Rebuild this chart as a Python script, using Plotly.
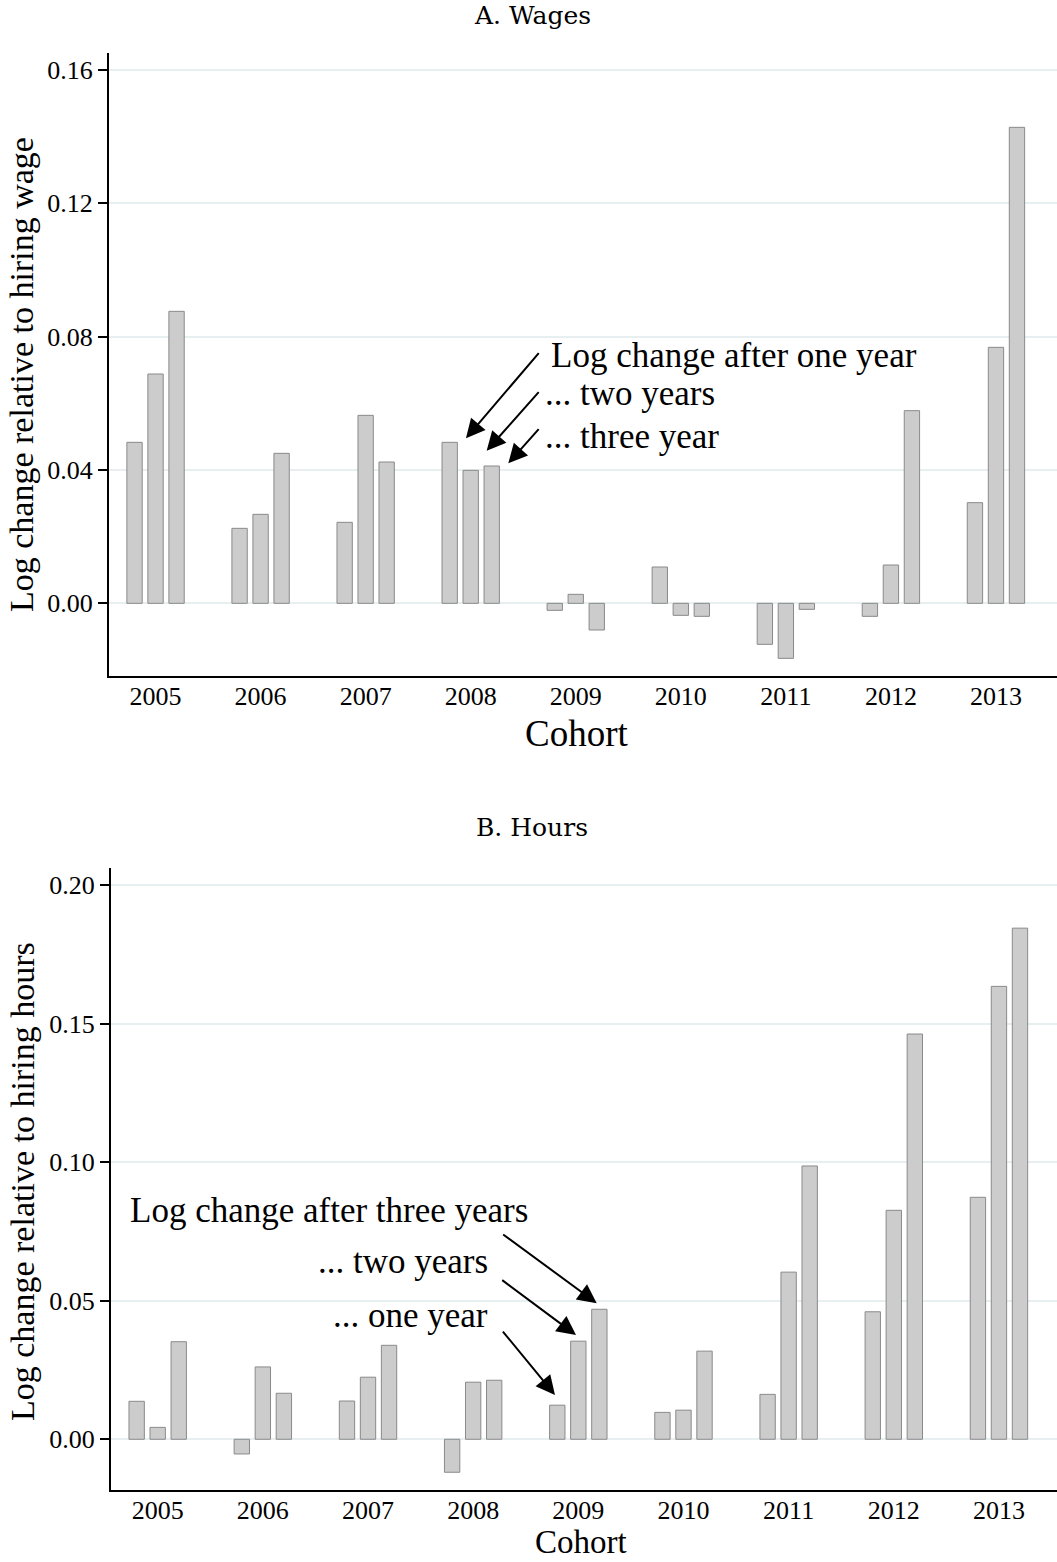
import plotly.graph_objects as go

# ---------------- data ----------------
cohorts = [2005, 2006, 2007, 2008, 2009, 2010, 2011, 2012, 2013]

wage_one_year = [0.0483, 0.0225, 0.0243, 0.0483, -0.0021, 0.0109, -0.0123, -0.0039, 0.0302]
wage_two_years = [0.0688, 0.0267, 0.0564, 0.0399, 0.0027, -0.0036, -0.0165, 0.0115, 0.0768]
wage_three_years = [0.0876, 0.0450, 0.0424, 0.0412, -0.0080, -0.0039, -0.0018, 0.0578, 0.1428]

hours_one_year = [0.0137, -0.0053, 0.0138, -0.0119, 0.0123, 0.0097, 0.0162, 0.0460, 0.0873]
hours_two_years = [0.0043, 0.0261, 0.0224, 0.0206, 0.0354, 0.0105, 0.0603, 0.0826, 0.1634]
hours_three_years = [0.0352, 0.0166, 0.0339, 0.0213, 0.0469, 0.0318, 0.0986, 0.1462, 0.1844]

wage_ticks = [0.00, 0.04, 0.08, 0.12, 0.16]
hours_ticks = [0.00, 0.05, 0.10, 0.15, 0.20]

# ---------------- style ----------------
SERIF = "Liberation Serif"
BAR_FILL = "#cccccc"
BAR_LINE = "#8a8a8a"
GRID = "#e7eff1"

fig = go.Figure()

for vals, name in [(wage_one_year, "one"), (wage_two_years, "two"), (wage_three_years, "three")]:
    fig.add_trace(go.Bar(x=cohorts, y=vals, name=name, offsetgroup=name,
                         marker=dict(color=BAR_FILL, line=dict(color=BAR_LINE, width=1)),
                         xaxis="x", yaxis="y", showlegend=False))
for vals, name in [(hours_one_year, "one"), (hours_two_years, "two"), (hours_three_years, "three")]:
    fig.add_trace(go.Bar(x=cohorts, y=vals, name=name, offsetgroup=name,
                         marker=dict(color=BAR_FILL, line=dict(color=BAR_LINE, width=1)),
                         xaxis="x2", yaxis="y2", showlegend=False))

W, H = 1057, 1562

common_x = dict(tickmode="array", tickvals=cohorts, ticktext=[str(c) for c in cohorts],
                showline=True, linecolor="black", linewidth=2, ticks="", showgrid=False,
                zeroline=False, tickfont=dict(family=SERIF, size=26, color="black"),
                ticklabelstandoff=-4)
common_y = dict(showline=True, linecolor="black", linewidth=2, ticks="outside", ticklen=9,
                tickwidth=1.5, tickcolor="black", showgrid=True, gridcolor=GRID, gridwidth=2,
                zeroline=False, tickformat=".2f",
                tickfont=dict(family=SERIF, size=26, color="black"))

fig.update_layout(
    width=W, height=H,
    margin=dict(l=0, r=0, t=0, b=0),
    paper_bgcolor="white", plot_bgcolor="white",
    barmode="group", bargap=0.4, bargroupgap=0.27,
    xaxis=dict(domain=[109 / W, 1], range=[2004.557, 2013.581], anchor="y", **common_x),
    yaxis=dict(domain=[1 - 676 / H, 1 - 53 / H], range=[-0.0218, 0.1651], anchor="x",
               tickvals=wage_ticks, **common_y),
    xaxis2=dict(domain=[111 / W, 1], range=[2004.556, 2013.552], anchor="y2", **common_x),
    yaxis2=dict(domain=[1 - 1490 / H, 1 - 868 / H], range=[-0.0183, 0.2061], anchor="x2",
                tickvals=hours_ticks, **common_y),
)

ann = []


def paper_text(text, px, py, size, family=SERIF, angle=0):
    return dict(text=text, xref="paper", yref="paper", x=px / W, y=1 - py / H,
                xanchor="center", yanchor="middle", textangle=angle, showarrow=False,
                font=dict(family=family, size=size, color="black"))


# panel titles
ann.append(paper_text("A. Wages", 532, 15, 25, family="DejaVu Serif"))
ann.append(paper_text("B. Hours", 532, 828, 25, family="DejaVu Serif"))
# axis titles
ann.append(paper_text("Cohort", 577, 733, 37))
ann.append(paper_text("Cohort", 581, 1542, 33))
ann.append(paper_text("Log change relative to hiring wage", 22, 375, 34, angle=-90))
ann.append(paper_text("Log change relative to hiring hours", 22, 1182, 34, angle=-90))

# panel A labels
labA = [("Log change after one year", 2008.745, 0.0745),
        ("... two years", 2008.688, 0.0631),
        ("... three year", 2008.688, 0.0502)]
for t, x, y in labA:
    ann.append(dict(text=t, xref="x", yref="y", x=x, y=y, xanchor="left", yanchor="middle",
                    showarrow=False, font=dict(family=SERIF, size=35, color="black")))
arrA = [((2008.660, 0.0755), (2007.955, 0.0495)),
        ((2008.660, 0.0638), (2008.152, 0.0458)),
        ((2008.660, 0.0527), (2008.358, 0.0420))]
for (tx, ty), (hx, hy) in arrA:
    ann.append(dict(text="", xref="x", yref="y", axref="x", ayref="y", x=hx, y=hy, ax=tx, ay=ty,
                    showarrow=True, arrowhead=2, arrowsize=1.9, arrowwidth=2,
                    arrowcolor="black", standoff=0, startstandoff=0))

# panel B labels
labB = [("Log change after three years", 2008.540, 0.0824),
        ("... two years", 2008.160, 0.0643),
        ("... one year", 2008.160, 0.0445)]
for t, x, y in labB:
    ann.append(dict(text=t, xref="x2", yref="y2", x=x, y=y, xanchor="right", yanchor="middle",
                    showarrow=False, font=dict(family=SERIF, size=35, color="black")))
arrB = [((2008.271, 0.0743), (2009.175, 0.0491)),
        ((2008.262, 0.0578), (2008.978, 0.0376)),
        ((2008.271, 0.0394), (2008.778, 0.0160))]
for (tx, ty), (hx, hy) in arrB:
    ann.append(dict(text="", xref="x2", yref="y2", axref="x2", ayref="y2", x=hx, y=hy, ax=tx, ay=ty,
                    showarrow=True, arrowhead=2, arrowsize=1.9, arrowwidth=2,
                    arrowcolor="black", standoff=0, startstandoff=0))

fig.update_layout(annotations=ann)

fig.write_html("out.html", config={"displayModeBar": False},
               post_script="document.body.style.margin='0';")
